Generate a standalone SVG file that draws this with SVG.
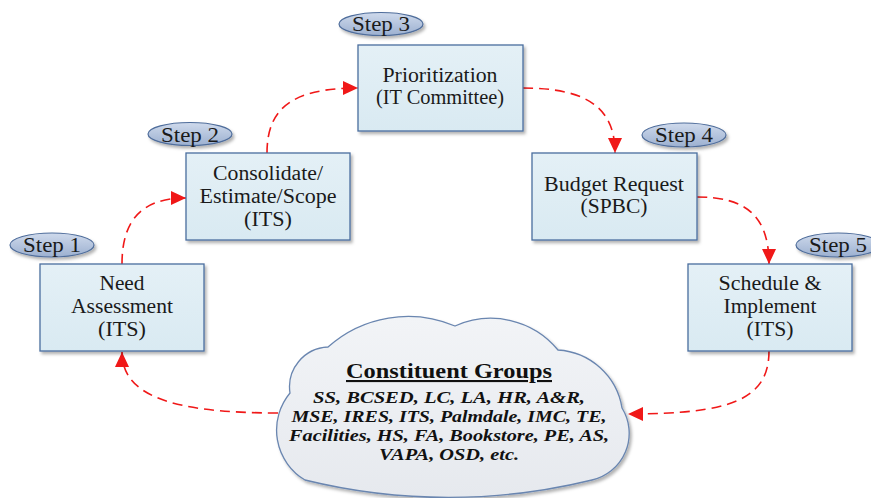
<svg xmlns="http://www.w3.org/2000/svg" width="871" height="498" viewBox="0 0 871 498">
<style>
.box{fill:url(#boxg);stroke:#4a6e9e;stroke-width:1.3;filter:url(#sh)}
.step{fill:url(#stepg);stroke:#4f6d9b;stroke-width:1.2;filter:url(#sh)}
.t{font-family:"Liberation Serif","Times New Roman",serif;font-size:20px;fill:#1a1a1a;text-anchor:middle}
.st{font-family:"Liberation Serif","Times New Roman",serif;font-size:21px;fill:#1a1a1a;text-anchor:middle}
.c{font-family:"Liberation Serif","Times New Roman",serif;font-size:17.5px;font-weight:bold;font-style:italic;fill:#111;text-anchor:middle}
.ct{font-family:"Liberation Serif","Times New Roman",serif;font-size:21px;font-weight:bold;fill:#111;text-anchor:middle;text-decoration:underline}
.con{fill:none;stroke:#f01818;stroke-width:1.6;stroke-dasharray:10 6;marker-end:url(#ah)}
</style>
<defs>
<linearGradient id="boxg" x1="0" y1="0" x2="0" y2="1"><stop offset="0" stop-color="#e4f0f6"/><stop offset="1" stop-color="#d9eaf2"/></linearGradient>
<linearGradient id="stepg" x1="0" y1="0" x2="0" y2="1"><stop offset="0" stop-color="#cfdaec"/><stop offset="1" stop-color="#9cb0d0"/></linearGradient>
<linearGradient id="cloudg" x1="0" y1="0" x2="0" y2="1"><stop offset="0" stop-color="#f2f4f7"/><stop offset="1" stop-color="#e6e9ee"/></linearGradient>
<filter id="sh" x="-10%" y="-10%" width="130%" height="140%"><feDropShadow dx="2" dy="2.5" stdDeviation="1.5" flood-color="#000" flood-opacity="0.3"/></filter>
<marker id="ah" markerUnits="userSpaceOnUse" markerWidth="16" markerHeight="14" refX="15" refY="7" orient="auto"><path d="M0,0 L15,7 L0,14 z" fill="#f01818"/></marker>
</defs>
<g id="connectors">
<path class="con" d="M122,264 C122,222 140,198 186,198"/>
<path class="con" d="M267,153 C267,110 290,88 358,88"/>
<path class="con" d="M523,88 C590,88 615,110 615,153"/>
<path class="con" d="M697,197 C745,197 769,215 769,264"/>
<path class="con" d="M769,351 C769,400 730,414 628,414"/>
<path class="con" d="M278,413 C170,413 122,395 122,352"/>
</g>
<g id="step1"><ellipse class="step" cx="52" cy="245" rx="42" ry="12"/><text class="st" x="52" y="252" textLength="58" lengthAdjust="spacingAndGlyphs">Step 1</text></g>
<g id="step2"><ellipse class="step" cx="190" cy="134" rx="42" ry="11.5"/><text class="st" x="190" y="142" textLength="58" lengthAdjust="spacingAndGlyphs">Step 2</text></g>
<g id="step3"><ellipse class="step" cx="381" cy="24" rx="42" ry="11.5"/><text class="st" x="381" y="31" textLength="58" lengthAdjust="spacingAndGlyphs">Step 3</text></g>
<g id="step4"><ellipse class="step" cx="684" cy="135" rx="42" ry="12"/><text class="st" x="684" y="142" textLength="58" lengthAdjust="spacingAndGlyphs">Step 4</text></g>
<g id="step5"><ellipse class="step" cx="838" cy="245" rx="42" ry="12"/><text class="st" x="838" y="252" textLength="58" lengthAdjust="spacingAndGlyphs">Step 5</text></g>
<g id="need"><rect class="box" x="40" y="264" width="164" height="87"/>
<text class="t" x="122" y="290" textLength="45" lengthAdjust="spacingAndGlyphs">Need</text><text class="t" x="122" y="313" textLength="102" lengthAdjust="spacingAndGlyphs">Assessment</text><text class="t" x="122" y="336" textLength="48" lengthAdjust="spacingAndGlyphs">(ITS)</text></g>
<g id="consolidate"><rect class="box" x="186" y="153" width="164" height="87"/>
<text class="t" x="268" y="180" textLength="110" lengthAdjust="spacingAndGlyphs">Consolidate/</text><text class="t" x="268" y="203" textLength="137" lengthAdjust="spacingAndGlyphs">Estimate/Scope</text><text class="t" x="268" y="226" textLength="48" lengthAdjust="spacingAndGlyphs">(ITS)</text></g>
<g id="prioritization"><rect class="box" x="358" y="45" width="165" height="86"/>
<text class="t" x="440" y="82" textLength="115" lengthAdjust="spacingAndGlyphs">Prioritization</text><text class="t" x="440" y="104" textLength="128" lengthAdjust="spacingAndGlyphs">(IT Committee)</text></g>
<g id="budget"><rect class="box" x="532" y="153" width="165" height="87"/>
<text class="t" x="614" y="191" textLength="140" lengthAdjust="spacingAndGlyphs">Budget Request</text><text class="t" x="614" y="213" textLength="67" lengthAdjust="spacingAndGlyphs">(SPBC)</text></g>
<g id="schedule"><rect class="box" x="688" y="264" width="164" height="87"/>
<text class="t" x="770" y="290" textLength="103" lengthAdjust="spacingAndGlyphs">Schedule &amp;</text><text class="t" x="770" y="313" textLength="93" lengthAdjust="spacingAndGlyphs">Implement</text><text class="t" x="770" y="336" textLength="47" lengthAdjust="spacingAndGlyphs">(ITS)</text></g>
<g id="cloud">
<path d="M290,393 A40,40 0 0 1 328,347 A120,120 0 0 1 455,326 A87,87 0 0 1 558,350 A69,69 0 0 1 622,408 A48,48 0 0 1 592,480 A600,600 0 0 1 305,480 A58,58 0 0 1 290,393 z" fill="url(#cloudg)" stroke="#6a86b0" stroke-width="1.3" filter="url(#sh)"/>
<text class="ct" x="449" y="378" textLength="206" lengthAdjust="spacingAndGlyphs">Constituent Groups</text>
<text class="c" x="449" y="403" textLength="272" lengthAdjust="spacingAndGlyphs">SS, BCSED, LC, LA, HR, A&amp;R,</text>
<text class="c" x="449" y="422" textLength="315" lengthAdjust="spacingAndGlyphs">MSE, IRES, ITS, Palmdale, IMC, TE,</text>
<text class="c" x="449" y="441" textLength="320" lengthAdjust="spacingAndGlyphs">Facilities, HS, FA, Bookstore, PE, AS,</text>
<text class="c" x="449" y="460" textLength="140" lengthAdjust="spacingAndGlyphs">VAPA, OSD, etc.</text>
</g>
</svg>
